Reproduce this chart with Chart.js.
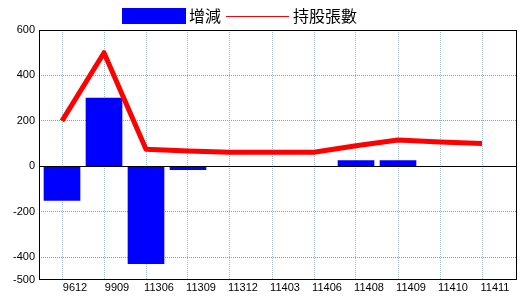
<!DOCTYPE html>
<html>
<head>
<meta charset="utf-8">
<script src="https://cdn.jsdelivr.net/npm/chart.js@4"></script>
<style>
  body { margin: 0; background: #fff; }
  canvas { display: block; }
</style>
</head>
<body>
<canvas id="holdChart" width="520" height="300"></canvas>
<script>
// data
const periods = ['9612', '9909', '11306', '11309', '11312', '11403', '11406', '11408', '11409', '11410', '11411'];
const changes = [-150, 300, -428, -14, 0, 0, 0, 25, 25, 0, 0];
const holdings = [200, 500, 75, 68, 62, 62, 62, 91, 116, 107, 101];
const yTicks = [-500, -400, -200, 0, 200, 400, 600];

const tickFont = { family: "'Liberation Sans', Arial, sans-serif", size: 11 };

// legend + frame drawn by hand
const framePlugin = {
    id: 'frame',
    afterDraw(chart) {
        const { ctx, chartArea: a } = chart;
        const y0 = chart.scales.y.getPixelForValue(0);
        ctx.save();
        ctx.strokeStyle = '#000';
        ctx.lineWidth = 1;
        ctx.strokeRect(Math.round(a.left) + 0.5, Math.round(a.top) + 0.5,
            Math.round(a.right - a.left) - 1, Math.round(a.bottom - a.top) - 1);
        ctx.beginPath();
        ctx.moveTo(a.left, Math.round(y0) + 0.5);
        ctx.lineTo(a.right, Math.round(y0) + 0.5);
        ctx.stroke();

        // legend
        ctx.fillStyle = '#0000ff';
        ctx.fillRect(122, 8, 64, 16);
        ctx.fillStyle = '#000';
        ctx.font = "16px 'Noto Sans CJK TC', sans-serif";
        ctx.textBaseline = 'middle';
        ctx.fillText('增減', 189, 16);
        ctx.strokeStyle = '#ff0000';
        ctx.beginPath();
        ctx.moveTo(226, 16.5);
        ctx.lineTo(289, 16.5);
        ctx.stroke();
        ctx.fillText('持股張數', 293, 16);
        ctx.restore();
    }
};

new Chart(document.getElementById('holdChart'), {
    type: 'bar',
    data: {
        datasets: [{
            type: 'line',
            label: '持股張數',
            data: holdings.map((v, i) => ({ x: i, y: v })),
            borderColor: '#ff0000',
            borderWidth: 5,
            borderJoinStyle: 'round',
            pointRadius: 0,
            tension: 0,
            fill: false,
            order: 0
        }, {
            type: 'bar',
            label: '增減',
            data: changes.map((v, i) => ({ x: i, y: v })),
            backgroundColor: '#0000ff',
            barThickness: 36,
            order: 1
        }]
    },
    options: {
        responsive: false,
        animation: false,
        devicePixelRatio: 1,
        layout: { padding: { top: 30, right: 3, left: 0, bottom: 0 } },
        plugins: {
            legend: { display: false },
            tooltip: { enabled: false }
        },
        scales: {
            x: {
                type: 'linear',
                offset: false,
                min: -23 / 42,
                max: -23 / 42 + 478 / 42,
                afterBuildTicks: s => { s.ticks = periods.map((_, i) => ({ value: i })); },
                afterFit: s => { s.height = 20; },
                ticks: {
                    callback: (v, i) => periods[i],
                    labelOffset: 13,
                    padding: 1,
                    autoSkip: false,
                    maxRotation: 0,
                    color: '#000',
                    font: tickFont
                },
                grid: { offset: false, color: '#a3bccb', drawTicks: false, lineWidth: 1 },
                border: { display: false, dash: [1, 1] }
            },
            y: {
                min: -500,
                max: 600,
                afterBuildTicks: s => { s.ticks = yTicks.map(v => ({ value: v })); },
                afterFit: s => { s.width = 39; },
                ticks: { padding: 4, color: '#000', font: tickFont },
                grid: {
                    color: c => (c.tick && [400, 200, -200, -400].includes(c.tick.value)) ? '#999999' : 'rgba(0,0,0,0)',
                    drawTicks: false,
                    lineWidth: 1
                },
                border: { display: false, dash: [1, 1] }
            }
        }
    },
    plugins: [framePlugin]
});
</script>
</body>
</html>
